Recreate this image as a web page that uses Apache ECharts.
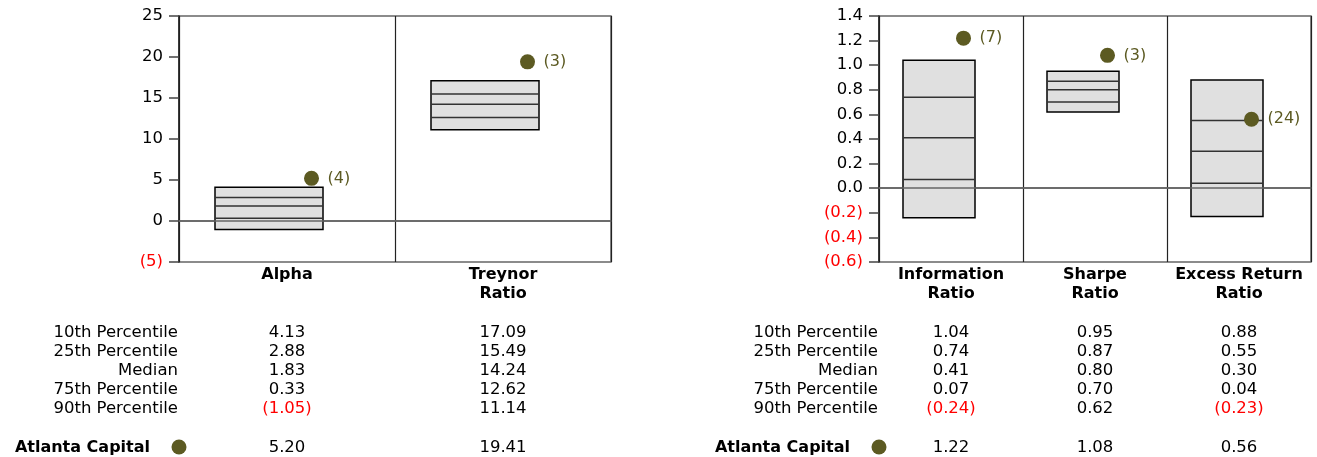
<!DOCTYPE html>
<html>
<head>
<meta charset="utf-8">
<script src="https://cdn.jsdelivr.net/npm/echarts@6/dist/echarts.min.js"></script>
<style>
  html, body { margin: 0; padding: 0; background: #fff; }
  #chart { width: 1317px; height: 457px; }
</style>
</head>
<body>
<div id="chart"></div>
<script>
// Categories per panel
const leftCategories = ['Alpha', 'Treynor\nRatio'];
const rightCategories = ['Information\nRatio', 'Sharpe\nRatio', 'Excess Return\nRatio'];

// Percentile rows: 10th, 25th, median, 75th, 90th
const rowLabels = ['10th Percentile', '25th Percentile', 'Median', '75th Percentile', '90th Percentile'];
const alphaPct = [4.13, 2.88, 1.83, 0.33, -1.05];
const treynorPct = [17.09, 15.49, 14.24, 12.62, 11.14];
const infoPct = [1.04, 0.74, 0.41, 0.07, -0.24];
const sharpePct = [0.95, 0.87, 0.80, 0.70, 0.62];
const excessPct = [0.88, 0.55, 0.30, 0.04, -0.23];

// Manager values and universe ranks
const managerName = 'Atlanta Capital';
const leftManager = [5.20, 19.41];
const rightManager = [1.22, 1.08, 0.56];
const leftRanks = [4, 3];
const rightRanks = [7, 3, 24];

const FONT = '"DejaVu Sans", "Liberation Sans", Arial, sans-serif';
const OLIVE = '#5c5a22';
const RED = '#ff0000';

const fmtNum = v => v < 0 ? '(' + Math.abs(v).toFixed(2) + ')' : v.toFixed(2);

function boxItem(params, api) {
  const band = api.size([1, 0])[0];
  const cx = api.coord([api.value(0), 0])[0] - band / 12;
  const half = band / 4;
  const ys = [1, 2, 3, 4, 5].map(i => api.coord([api.value(0), api.value(i)])[1]);
  const children = [{
    type: 'rect',
    shape: { x: cx - half, y: ys[0], width: half * 2, height: ys[4] - ys[0] },
    style: { fill: '#e0e0e0', stroke: '#000', lineWidth: 1.5 }
  }];
  for (let k = 1; k <= 3; k++) {
    children.push({
      type: 'line',
      shape: { x1: cx - half, y1: ys[k], x2: cx + half, y2: ys[k] },
      style: { stroke: '#333', lineWidth: 1.5 }
    });
  }
  return { type: 'group', children };
}

function dotItem(params, api) {
  const band = api.size([1, 0])[0];
  const c = api.coord([api.value(0), api.value(1)]);
  const x = c[0] + band / 6 - 11.5;
  return {
    type: 'group',
    children: [
      { type: 'circle', shape: { cx: x, cy: c[1], r: 7.5 }, style: { fill: OLIVE } },
      { type: 'text', x: x + 16, y: c[1],
        style: { text: '(' + api.value(2) + ')', fill: OLIVE, font: '16px ' + FONT,
                 align: 'left', verticalAlign: 'middle' } }
    ]
  };
}

function boxData(cats, sets) {
  return cats.map((c, i) => [i].concat(sets[i]));
}
function dotData(vals, ranks) {
  return vals.map((v, i) => [i, v, ranks[i]]);
}

const chart = echarts.init(document.getElementById('chart'), null, { renderer: 'canvas' });

function yAxisCfg(idx, min, max, interval, decimals) {
  return {
    type: 'value', gridIndex: idx, min, max, interval,
    axisLine: { show: true, lineStyle: { color: '#222', width: 1.5 } },
    axisTick: { show: true, length: 10, lineStyle: { color: '#444', width: 1.5 } },
    splitLine: { show: false },
    axisLabel: {
      margin: 16, fontSize: 16.5, fontFamily: FONT,
      color: v => (Number(v) < -1e-9 ? RED : '#000'),
      formatter: v => {
        const n = Number(v);
        if (Math.abs(n) < 1e-9) return decimals ? (0).toFixed(decimals) : '0';
        const s = Math.abs(n).toFixed(decimals);
        return n < 0 ? '(' + s + ')' : s;
      }
    }
  };
}

function xAxisCfg(idx, cats) {
  return {
    type: 'category', gridIndex: idx, data: cats, boundaryGap: true,
    axisLine: { show: true, lineStyle: { color: '#555', width: 1.5 } },
    axisTick: { show: false },
    splitLine: { show: true, lineStyle: { color: '#222', width: 1.2 } },
    axisLabel: {
      margin: 3, fontSize: 16, fontWeight: 'bold', fontFamily: FONT,
      color: '#000', lineHeight: 19, interval: 0
    }
  };
}

const zeroLine = idx => ({
  type: 'line', xAxisIndex: idx, yAxisIndex: idx, data: [], z: 1,
  markLine: {
    silent: true, symbol: 'none', label: { show: false },
    lineStyle: { color: '#666', type: 'solid', width: 1.5 },
    data: [{ yAxis: 0 }]
  }
});

chart.setOption({
  animation: false,
  grid: [
    { left: 179, right: 706, top: 16, bottom: 195, show: true, borderColor: '#666', borderWidth: 1.5 },
    { left: 879, right: 6, top: 16, bottom: 195, show: true, borderColor: '#666', borderWidth: 1.5 }
  ],
  xAxis: [xAxisCfg(0, leftCategories), xAxisCfg(1, rightCategories)],
  yAxis: [yAxisCfg(0, -5, 25, 5, 0), yAxisCfg(1, -0.6, 1.4, 0.2, 1)],
  series: [
    zeroLine(0),
    zeroLine(1),
    { type: 'custom', xAxisIndex: 0, yAxisIndex: 0, z: 3, renderItem: boxItem,
      encode: { x: 0, y: [1, 2, 3, 4, 5] },
      data: boxData(leftCategories, [alphaPct, treynorPct]) },
    { type: 'custom', xAxisIndex: 1, yAxisIndex: 1, z: 3, renderItem: boxItem,
      encode: { x: 0, y: [1, 2, 3, 4, 5] },
      data: boxData(rightCategories, [infoPct, sharpePct, excessPct]) },
    { type: 'custom', xAxisIndex: 0, yAxisIndex: 0, z: 4, renderItem: dotItem,
      encode: { x: 0, y: 1 }, data: dotData(leftManager, leftRanks) },
    { type: 'custom', xAxisIndex: 1, yAxisIndex: 1, z: 4, renderItem: dotItem,
      encode: { x: 0, y: 1 }, data: dotData(rightManager, rightRanks) }
  ]
});

// Summary table under each panel, columns aligned to the category centres
const rowY = [333, 352, 371, 390, 409];
const managerY = 448;
const graphics = [];
function txt(text, x, y, align, opts) {
  graphics.push({
    type: 'text', x, y, silent: true,
    style: Object.assign({ text, fill: '#000', font: '16.5px ' + FONT, align, verticalAlign: 'middle' }, opts || {})
  });
}
function buildTable(axisIdx, gridLeft, cats, sets, managerVals) {
  rowLabels.forEach((lab, r) => txt(lab, gridLeft - 1, rowY[r], 'right'));
  txt(managerName, gridLeft - 29, managerY, 'right', { font: 'bold 16px ' + FONT });
  graphics.push({ type: 'circle', shape: { cx: gridLeft, cy: 447, r: 7.5 }, style: { fill: OLIVE }, silent: true });
  cats.forEach((c, i) => {
    const x = chart.convertToPixel({ xAxisIndex: axisIdx }, c);
    sets[i].forEach((v, r) => txt(fmtNum(v), x, rowY[r], 'center', { fill: v < 0 ? RED : '#000' }));
    txt(fmtNum(managerVals[i]), x, managerY, 'center', { fill: managerVals[i] < 0 ? RED : '#000' });
  });
}
buildTable(0, 179, leftCategories, [alphaPct, treynorPct], leftManager);
buildTable(1, 879, rightCategories, [infoPct, sharpePct, excessPct], rightManager);
chart.setOption({ graphic: graphics });
</script>
</body>
</html>
